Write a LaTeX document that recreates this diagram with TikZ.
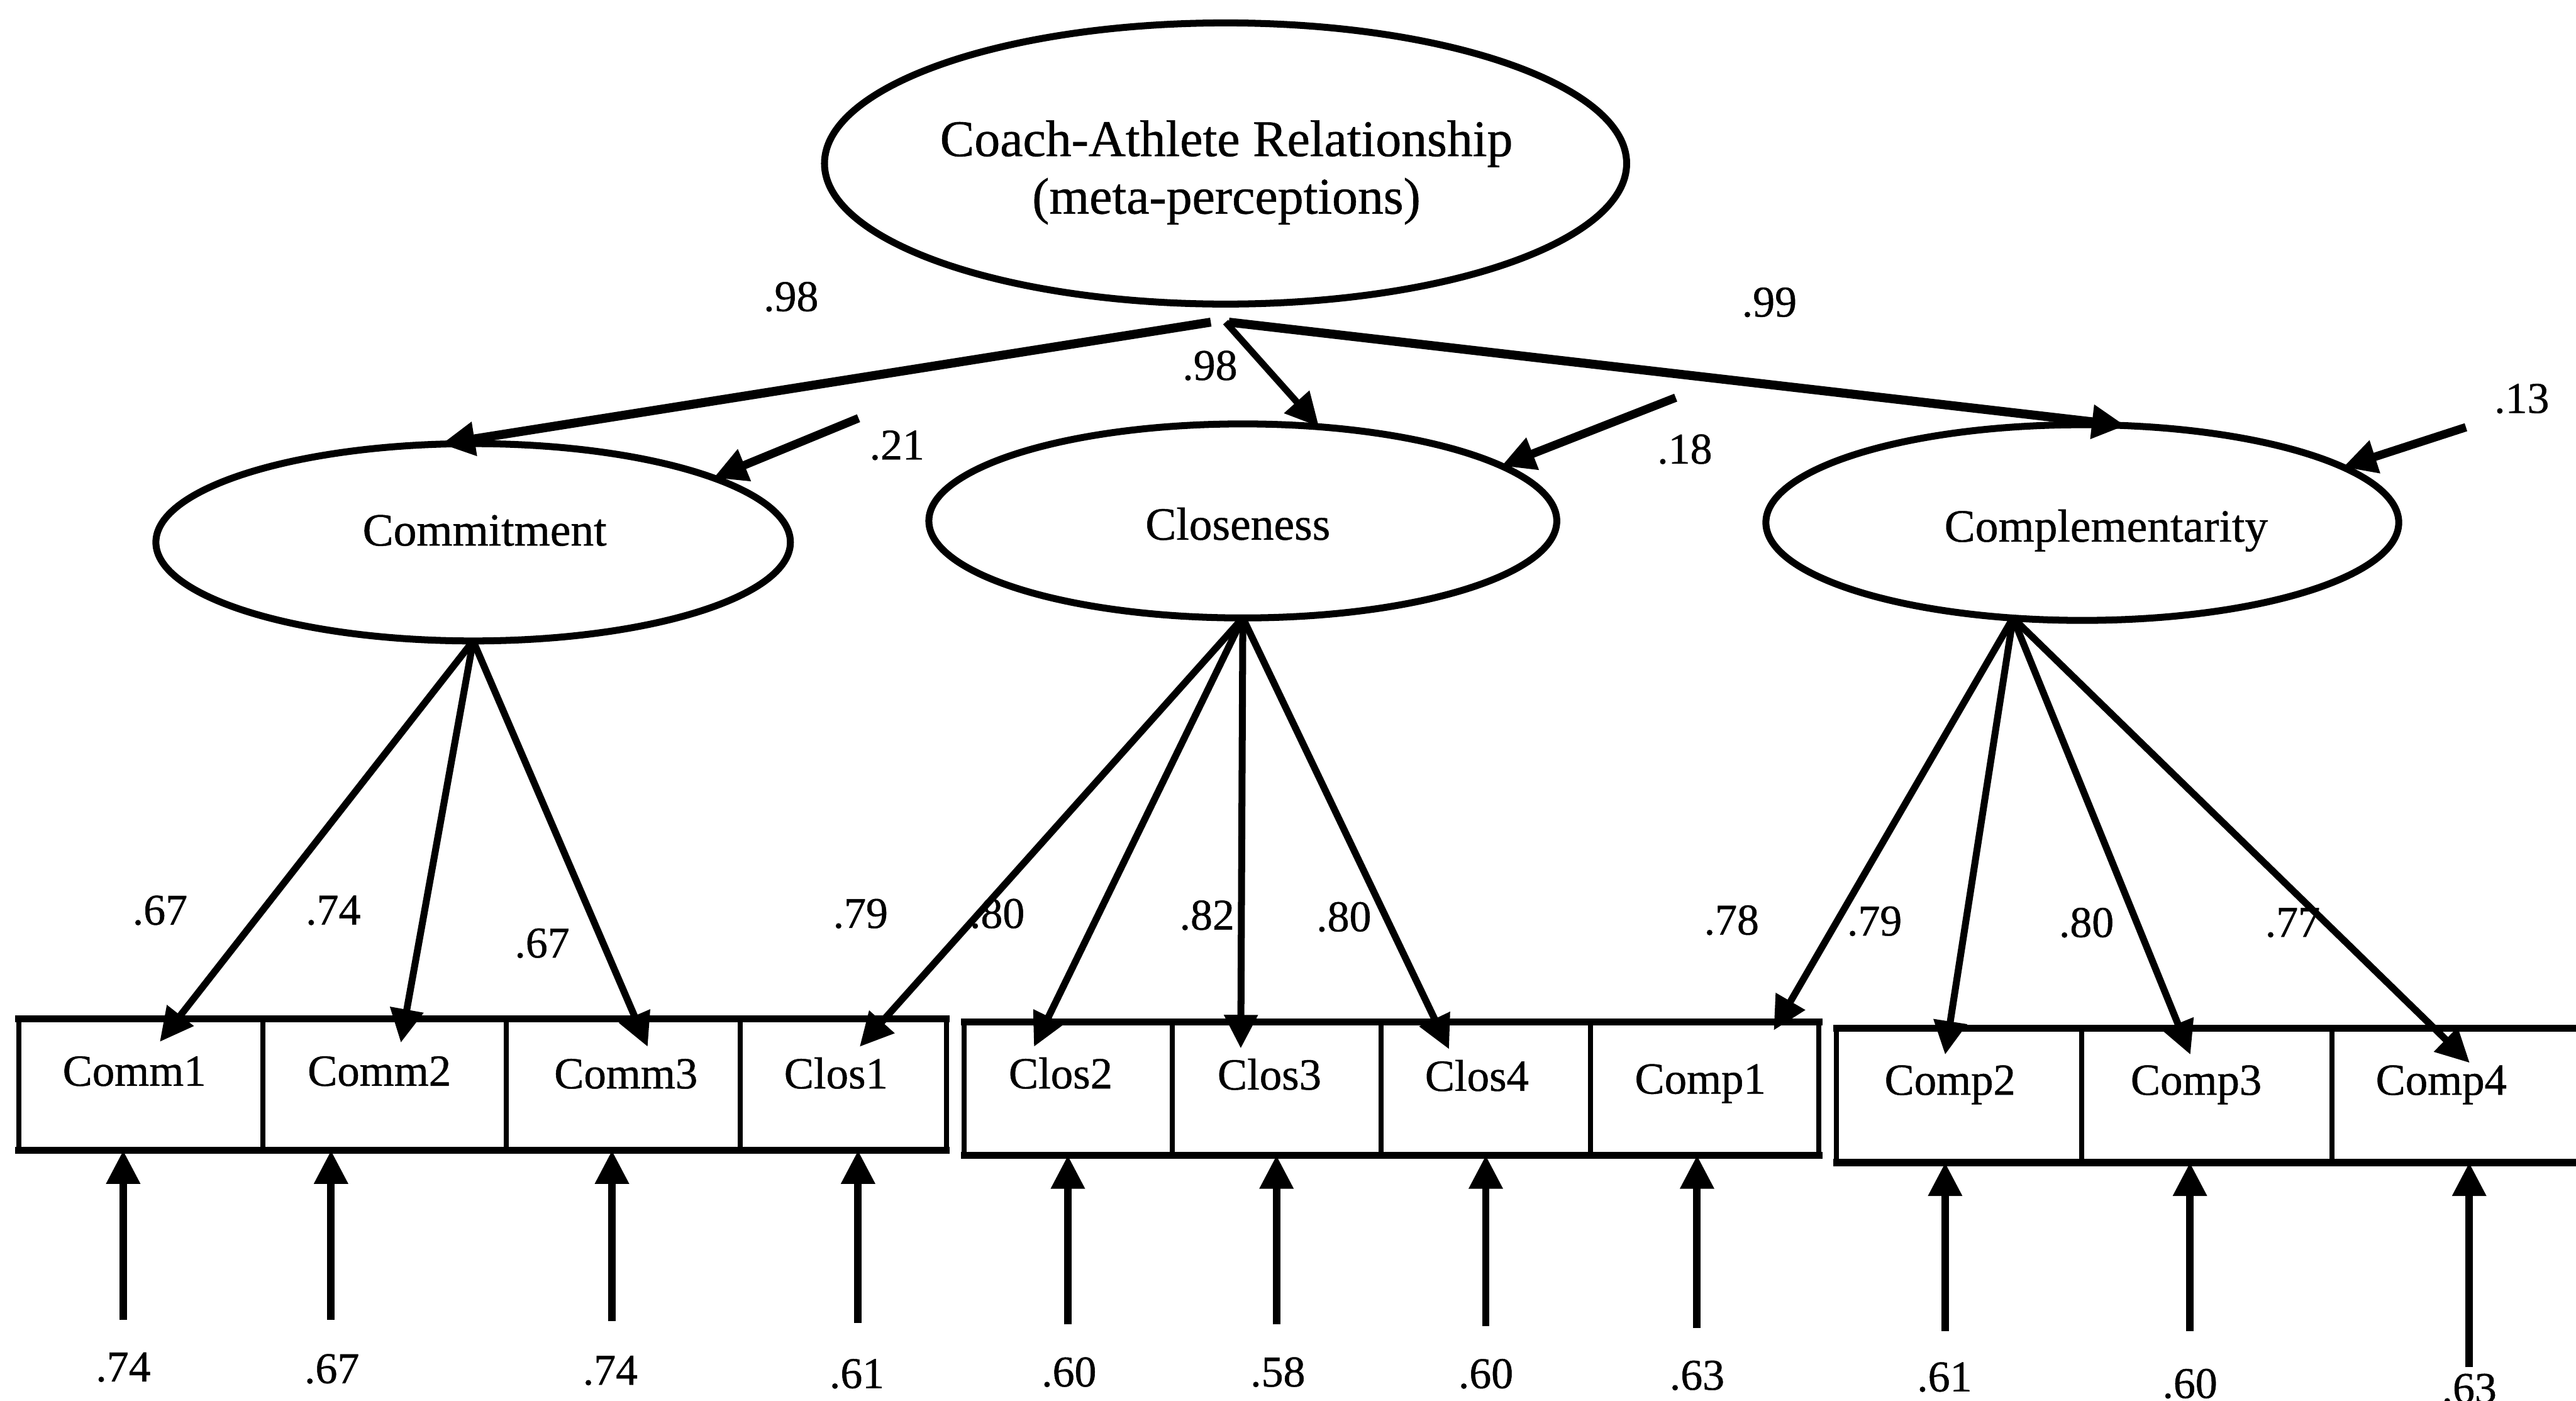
\documentclass[tikz,border=0pt]{standalone}
\usepackage{fontspec}
\setmainfont{Liberation Serif}[FakeBold=0.7]
\usetikzlibrary{arrows.meta,shapes.geometric,calc}

\begin{document}
\begin{tikzpicture}[x=0.01cm,y=-0.01cm,
  latent/.style={draw, ellipse, line width=1.2pt, inner sep=0pt, outer sep=0pt},
  indbox/.style={draw, rectangle, line width=0.85pt, inner sep=0pt, outer sep=0pt},
  rim/.style={line width=1.25pt, line cap=rect},
  arr/.style={-{Triangle[length=5.8pt,width=5.6pt]}},
  toparr/.style={arr, line width=1.55pt},
  midarr/.style={arr, line width=1.15pt},
  loadarr/.style={arr, line width=1.2pt},
  errarr/.style={arr, line width=1.3pt},
  disarr/.style={arr, line width=1.45pt},
  bigtext/.style={font=\fontsize{8.9}{10}\selectfont, inner sep=0pt, anchor=base},
  factext/.style={font=\fontsize{8}{9}\selectfont, inner sep=0pt, anchor=base},
  boxtext/.style={font=\fontsize{7.7}{9}\selectfont, inner sep=0pt, anchor=base},
  num/.style={font=\fontsize{7.6}{9}\selectfont, inner sep=0pt}
]
\fill[white] (0,0) rectangle (1568,852.5);
\useasboundingbox (0,0) rectangle (1568,852.5);

% ---------- latent variables ----------
\node[latent, minimum width=4.88cm, minimum height=1.71cm] (top) at (746,99.5) {};
\node[bigtext] (toptxt1) at (746.5,95) {Coach-Athlete Relationship};
\node[bigtext] (toptxt2) at (746.5,130) {(meta-perceptions)};

\node[latent, minimum width=3.86cm, minimum height=1.20cm] (commit) at (288,330) {};
\node[factext] (committxt) at (295,332) {Commitment};

\node[latent, minimum width=3.82cm, minimum height=1.18cm] (clos) at (756.5,317) {};
\node[factext] (clostxt) at (753.5,328.4) {Closeness};

\node[latent, minimum width=3.85cm, minimum height=1.19cm] (comp) at (1267.5,318) {};
\node[factext] (comptxt) at (1282,329.6) {Complementarity};

% ---------- observed indicators ----------
\node[indbox, minimum width=1.485cm, minimum height=0.80cm] (c1) at (85.75,660) {};
\node[indbox, minimum width=1.48cm,  minimum height=0.80cm] (c2) at (234,660) {};
\node[indbox, minimum width=1.425cm, minimum height=0.80cm] (c3) at (379.25,660) {};
\node[indbox, minimum width=1.255cm, minimum height=0.80cm] (k1) at (513.25,660) {};

\node[indbox, minimum width=1.267cm, minimum height=0.81cm] (k2) at (650.35,662.5) {};
\node[indbox, minimum width=1.271cm, minimum height=0.81cm] (k3) at (777.25,662.5) {};
\node[indbox, minimum width=1.275cm, minimum height=0.81cm] (k4) at (904.55,662.5) {};
\node[indbox, minimum width=1.387cm, minimum height=0.81cm] (p1) at (1037.65,662.5) {};

\node[indbox, minimum width=1.49cm,  minimum height=0.816cm] (p2) at (1192.5,666.6) {};
\node[indbox, minimum width=1.526cm, minimum height=0.816cm] (p3) at (1343.3,666.6) {};
\node[indbox, minimum width=1.604cm, minimum height=0.816cm] (p4) at (1499.8,666.6) {};

% heavier top and bottom rims of each row of boxes
\draw[rim] (c1.north west) -- (k1.north east);
\draw[rim] (c1.south west) -- (k1.south east);
\draw[rim] (k2.north west) -- (p1.north east);
\draw[rim] (k2.south west) -- (p1.south east);
\draw[rim] (p2.north west) -- (p4.north east);
\draw[rim] (p2.south west) -- (p4.south east);

\node[boxtext] (tc1) at (81.8,660.7) {Comm1};
\node[boxtext] (tc2) at (230.9,660.7) {Comm2};
\node[boxtext] (tc3) at (381,662.3) {Comm3};
\node[boxtext] (tk1) at (508.9,662.3) {Clos1};
\node[boxtext] (tk2) at (645.6,662.3) {Clos2};
\node[boxtext] (tk3) at (772.7,663) {Clos3};
\node[boxtext] (tk4) at (899,663.8) {Clos4};
\node[boxtext] (tp1) at (1035,665.5) {Comp1};
\node[boxtext] (tp2) at (1187,666.2) {Comp2};
\node[boxtext] (tp3) at (1336.8,666.2) {Comp3};
\node[boxtext] (tp4) at (1486,666.2) {Comp4};

% ---------- second-order paths ----------
\coordinate (tf) at ([shift={(0,11)}]top.south);
\draw[toparr] ([shift={(-9,0)}]tf) -- (commit.108);
\draw[midarr] (tf) -- (clos.51);
\draw[toparr] ([shift={(2,0)}]tf) -- (comp.66);

\node[num] (g1) at (481.5,180.6) {.98};
\node[num] (g2) at (736.5,222.5) {.98};
\node[num] (g3) at (1077,184) {.99};

% ---------- disturbances ----------
\coordinate (d1) at (522.6,254.5);
\coordinate (d2) at (1020,242);
\coordinate (d3) at (1501,260);
\draw[disarr] (d1) -- (commit.15);
\draw[disarr] (d2) -- (clos.12);
\draw[disarr] (d3) -- (comp.12);
\node[num] (r1) at (546,271) {.21};
\node[num] (r2) at (1025.5,273.4) {.18};
\node[num] (r3) at (1535,242.6) {.13};

% ---------- factor loadings ----------
\draw[loadarr] (commit.south) -- ([shift={(11.5,14)}]c1.north);
\draw[loadarr] (commit.south) -- ([shift={(10,14.5)}]c2.north);
\draw[loadarr] (commit.south) -- ([shift={(15,17)}]c3.north);

\draw[loadarr] (clos.south) -- ([shift={(10,17)}]k1.north);
\draw[loadarr] (clos.south) -- ([shift={(-21,15)}]k2.north);
\draw[loadarr] (clos.south) -- ([shift={(-22,16)}]k3.north);
\draw[loadarr] (clos.south) -- ([shift={(-22.5,16.5)}]k4.north);

\draw[loadarr] (comp.234) -- ([shift={(42,5)}]p1.north);
\draw[loadarr] (comp.234) -- ([shift={(-8.5,16)}]p2.north);
\draw[loadarr] (comp.234) -- ([shift={(-10,16)}]p3.north);
\draw[loadarr] (comp.234) -- ([shift={(3.5,21)}]p4.north);

\node[num] (l1) at (97.4,554) {.67};
\node[num] (l2) at (202.8,554) {.74};
\node[num] (l3) at (330,574) {.67};
\node[num] (l4) at (523.8,556) {.79};
\node[num] (l5) at (607,556) {.80};
\node[num] (l6) at (734.7,557) {.82};
\node[num] (l7) at (818,558) {.80};
\node[num] (l8) at (1054,560) {.78};
\node[num] (l9) at (1141,560.6) {.79};
\node[num] (l10) at (1270,561.5) {.80};
\node[num] (l11) at (1395.5,561.5) {.77};

% ---------- measurement errors ----------
\coordinate (e1) at (75,803);
\coordinate (e2) at (201.5,803);
\coordinate (e3) at (372.5,804);
\coordinate (e4) at (522.3,805);
\coordinate (e5) at (650,806);
\coordinate (e6) at (777,806);
\coordinate (e7) at (904.4,807);
\coordinate (e8) at (1033,808);
\coordinate (e9) at (1184,810);
\coordinate (e10) at (1333,810);
\coordinate (e11) at (1503,832);

\draw[errarr] (e1) -- (e1 |- c1.south);
\draw[errarr] (e2) -- (e2 |- c2.south);
\draw[errarr] (e3) -- (e3 |- c3.south);
\draw[errarr] (e4) -- (e4 |- k1.south);
\draw[errarr] (e5) -- (e5 |- k2.south);
\draw[errarr] (e6) -- (e6 |- k3.south);
\draw[errarr] (e7) -- (e7 |- k4.south);
\draw[errarr] (e8) -- (e8 |- p1.south);
\draw[errarr] (e9) -- (e9 |- p2.south);
\draw[errarr] (e10) -- (e10 |- p3.south);
\draw[errarr] (e11) -- (e11 |- p4.south);

\node[num] (u1) at (75,832) {.74};
\node[num] (u2) at (202,833) {.67};
\node[num] (u3) at (371.5,834) {.74};
\node[num] (u4) at (521.6,836) {.61};
\node[num] (u5) at (650.7,835) {.60};
\node[num] (u6) at (777.8,835) {.58};
\node[num] (u7) at (904.4,836) {.60};
\node[num] (u8) at (1033,837) {.63};
\node[num] (u9) at (1183.6,838) {.61};
\node[num] (u10) at (1333,842) {.60};
\node[num] (u11) at (1503,845) {.63};
\end{tikzpicture}
\end{document}
